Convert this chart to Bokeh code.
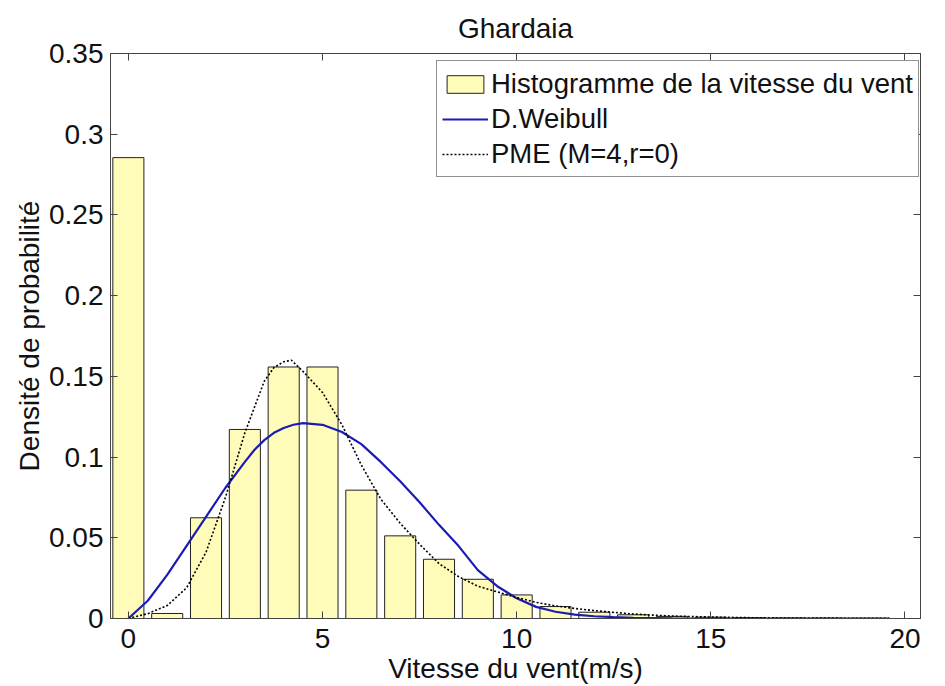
from bokeh.plotting import figure
from bokeh.models import (Range1d, LinearAxis, FixedTicker, Legend, LegendItem,
                          CustomJSTickFormatter)
from bokeh.embed import file_html
from bokeh.resources import INLINE

# ---------------- data ----------------
title_text = "Ghardaia"
x_label = "Vitesse du vent(m/s)"
y_label = "Densité de probabilité"

bin_centers = [0, 1, 2, 3, 4, 5, 6, 7, 8, 9, 10, 11, 12, 13, 14, 15, 16, 17, 18, 19]
hist_density = [0.2855, 0.0031, 0.0624, 0.1171, 0.1558, 0.1558, 0.0795, 0.0512,
                0.0367, 0.0243, 0.0146, 0.0074, 0.0039, 0.0023, 0.0013, 0.0008,
                0.0005, 0.0003, 0.0002, 0.0001]

weibull_x = [0.0, 0.5, 1.0, 1.5, 2.0, 2.5, 3.0, 3.25, 3.5, 3.75, 4.0, 4.25, 4.5, 5.0,
             5.5, 6.0, 6.5, 7.0, 7.5, 8.0, 8.5, 9.0, 9.5, 10.0, 10.5, 11.0, 11.5,
             12.0, 12.5, 13.0, 14.0, 15.0, 19.6]
weibull_y = [0.000, 0.011, 0.027, 0.045, 0.063, 0.081, 0.097, 0.1045, 0.1105, 0.1150,
             0.1180, 0.1200, 0.1210, 0.1200, 0.1155, 0.108, 0.097, 0.085, 0.072, 0.058,
             0.045, 0.030, 0.020, 0.0125, 0.0072, 0.0042, 0.0024, 0.0014, 0.0008,
             0.0004, 0.0001, 0.0, 0.0]

pme_x = [0.0, 0.5, 1.0, 1.5, 2.0, 2.5, 3.0, 3.5, 3.75, 4.0, 4.2, 4.5, 5.0, 5.5, 6.0,
         6.5, 7.0, 7.5, 8.0, 8.5, 9.0, 9.5, 10.0, 10.5, 11.0, 11.5, 12.0, 12.5, 13.0,
         13.5, 14.0, 15.0, 16.0, 17.0, 19.6]
pme_y = [0.000, 0.003, 0.008, 0.019, 0.041, 0.075, 0.115, 0.147, 0.1555, 0.159,
         0.160, 0.153, 0.140, 0.120, 0.095, 0.074, 0.059, 0.046, 0.034, 0.026,
         0.020, 0.0165, 0.013, 0.010, 0.0078, 0.0062, 0.0049, 0.0038, 0.0028,
         0.0021, 0.0015, 0.0009, 0.0005, 0.0003, 0.0001]

x_ticks = [0, 5, 10, 15, 20]
x_tick_labels = ["0", "5", "10", "15", "20"]
y_ticks = [0, 0.05, 0.1, 0.15, 0.2, 0.25, 0.3, 0.35]
y_tick_labels = ["0", "0.05", "0.1", "0.15", "0.2", "0.25", "0.3", "0.35"]

legend_labels = ["Histogramme de la vitesse du vent", "D.Weibull", "PME (M=4,r=0)"]

# ---------------- styling ----------------
FONT = "Liberation Sans"
FS = "28px"
AXC = "#444444"
TXT = "#111111"

p = figure(frame_width=810, frame_height=565,
           min_border_left=110, min_border_top=53, min_border_bottom=66, min_border_right=14,
           x_range=Range1d(-0.46, 20.4), y_range=Range1d(0, 0.35),
           output_backend="svg", toolbar_location=None, title=title_text)

p.title.align = "center"
p.title.offset = 19
p.title.text_font = FONT
p.title.text_font_size = "28px"
p.title.text_font_style = "normal"
p.title.text_color = TXT
p.title.standoff = 20

p.grid.visible = False
p.outline_line_color = AXC
p.outline_line_width = 1
p.background_fill_color = "white"
p.border_fill_color = "white"

bars = p.vbar(x=bin_centers, top=hist_density, width=0.8, bottom=0,
              fill_color="#FFFBB8", line_color="#222222", line_width=1)
wline = p.line(weibull_x, weibull_y, line_color="#1C1CB4", line_width=2.2)
pline = p.line(pme_x, pme_y, line_color="black", line_width=1.6, line_dash="2 2")


def style_axis(ax, ticks, labels, show_labels=True):
    ax.ticker = FixedTicker(ticks=ticks)
    ax.axis_line_color = AXC
    ax.major_tick_line_color = AXC
    ax.major_tick_in = 7
    ax.major_tick_out = 0
    ax.minor_tick_line_color = None
    ax.major_label_text_font = FONT
    ax.major_label_text_font_size = FS
    ax.major_label_text_color = TXT
    ax.axis_label_text_font = FONT
    ax.axis_label_text_font_size = FS
    ax.axis_label_text_font_style = "normal"
    ax.axis_label_text_color = TXT
    if show_labels:
        ax.major_label_overrides = {t: l for t, l in zip(ticks, labels)}
    else:
        ax.formatter = CustomJSTickFormatter(code="return '';")
        ax.major_label_standoff = 0


xa = p.xaxis[0]
style_axis(xa, x_ticks, x_tick_labels)
xa.axis_label = x_label
xa.axis_label_standoff = 2
xa.major_label_standoff = 10

ya = p.yaxis[0]
style_axis(ya, y_ticks, y_tick_labels)
ya.axis_label = y_label
ya.axis_label_standoff = 1
ya.major_label_standoff = 7

top_ax = LinearAxis()
style_axis(top_ax, x_ticks, x_tick_labels, show_labels=False)
p.add_layout(top_ax, "above")

right_ax = LinearAxis()
style_axis(right_ax, y_ticks, y_tick_labels, show_labels=False)
p.add_layout(right_ax, "right")

legend = Legend(items=[LegendItem(label=legend_labels[0], renderers=[bars]),
                       LegendItem(label=legend_labels[1], renderers=[wline]),
                       LegendItem(label=legend_labels[2], renderers=[pline])],
                location=(326, 441))
legend.label_text_font = FONT
legend.label_text_font_size = "27.5px"
legend.label_text_color = TXT
legend.border_line_color = "#222222"
legend.border_line_width = 1
legend.background_fill_alpha = 1.0
legend.glyph_width = 46
legend.glyph_height = 22
legend.label_standoff = 3
legend.label_height = 35
legend.padding = 5
legend.spacing = 0
legend.margin = 0
p.add_layout(legend)

open("out.html", "w").write(file_html(p, INLINE))
